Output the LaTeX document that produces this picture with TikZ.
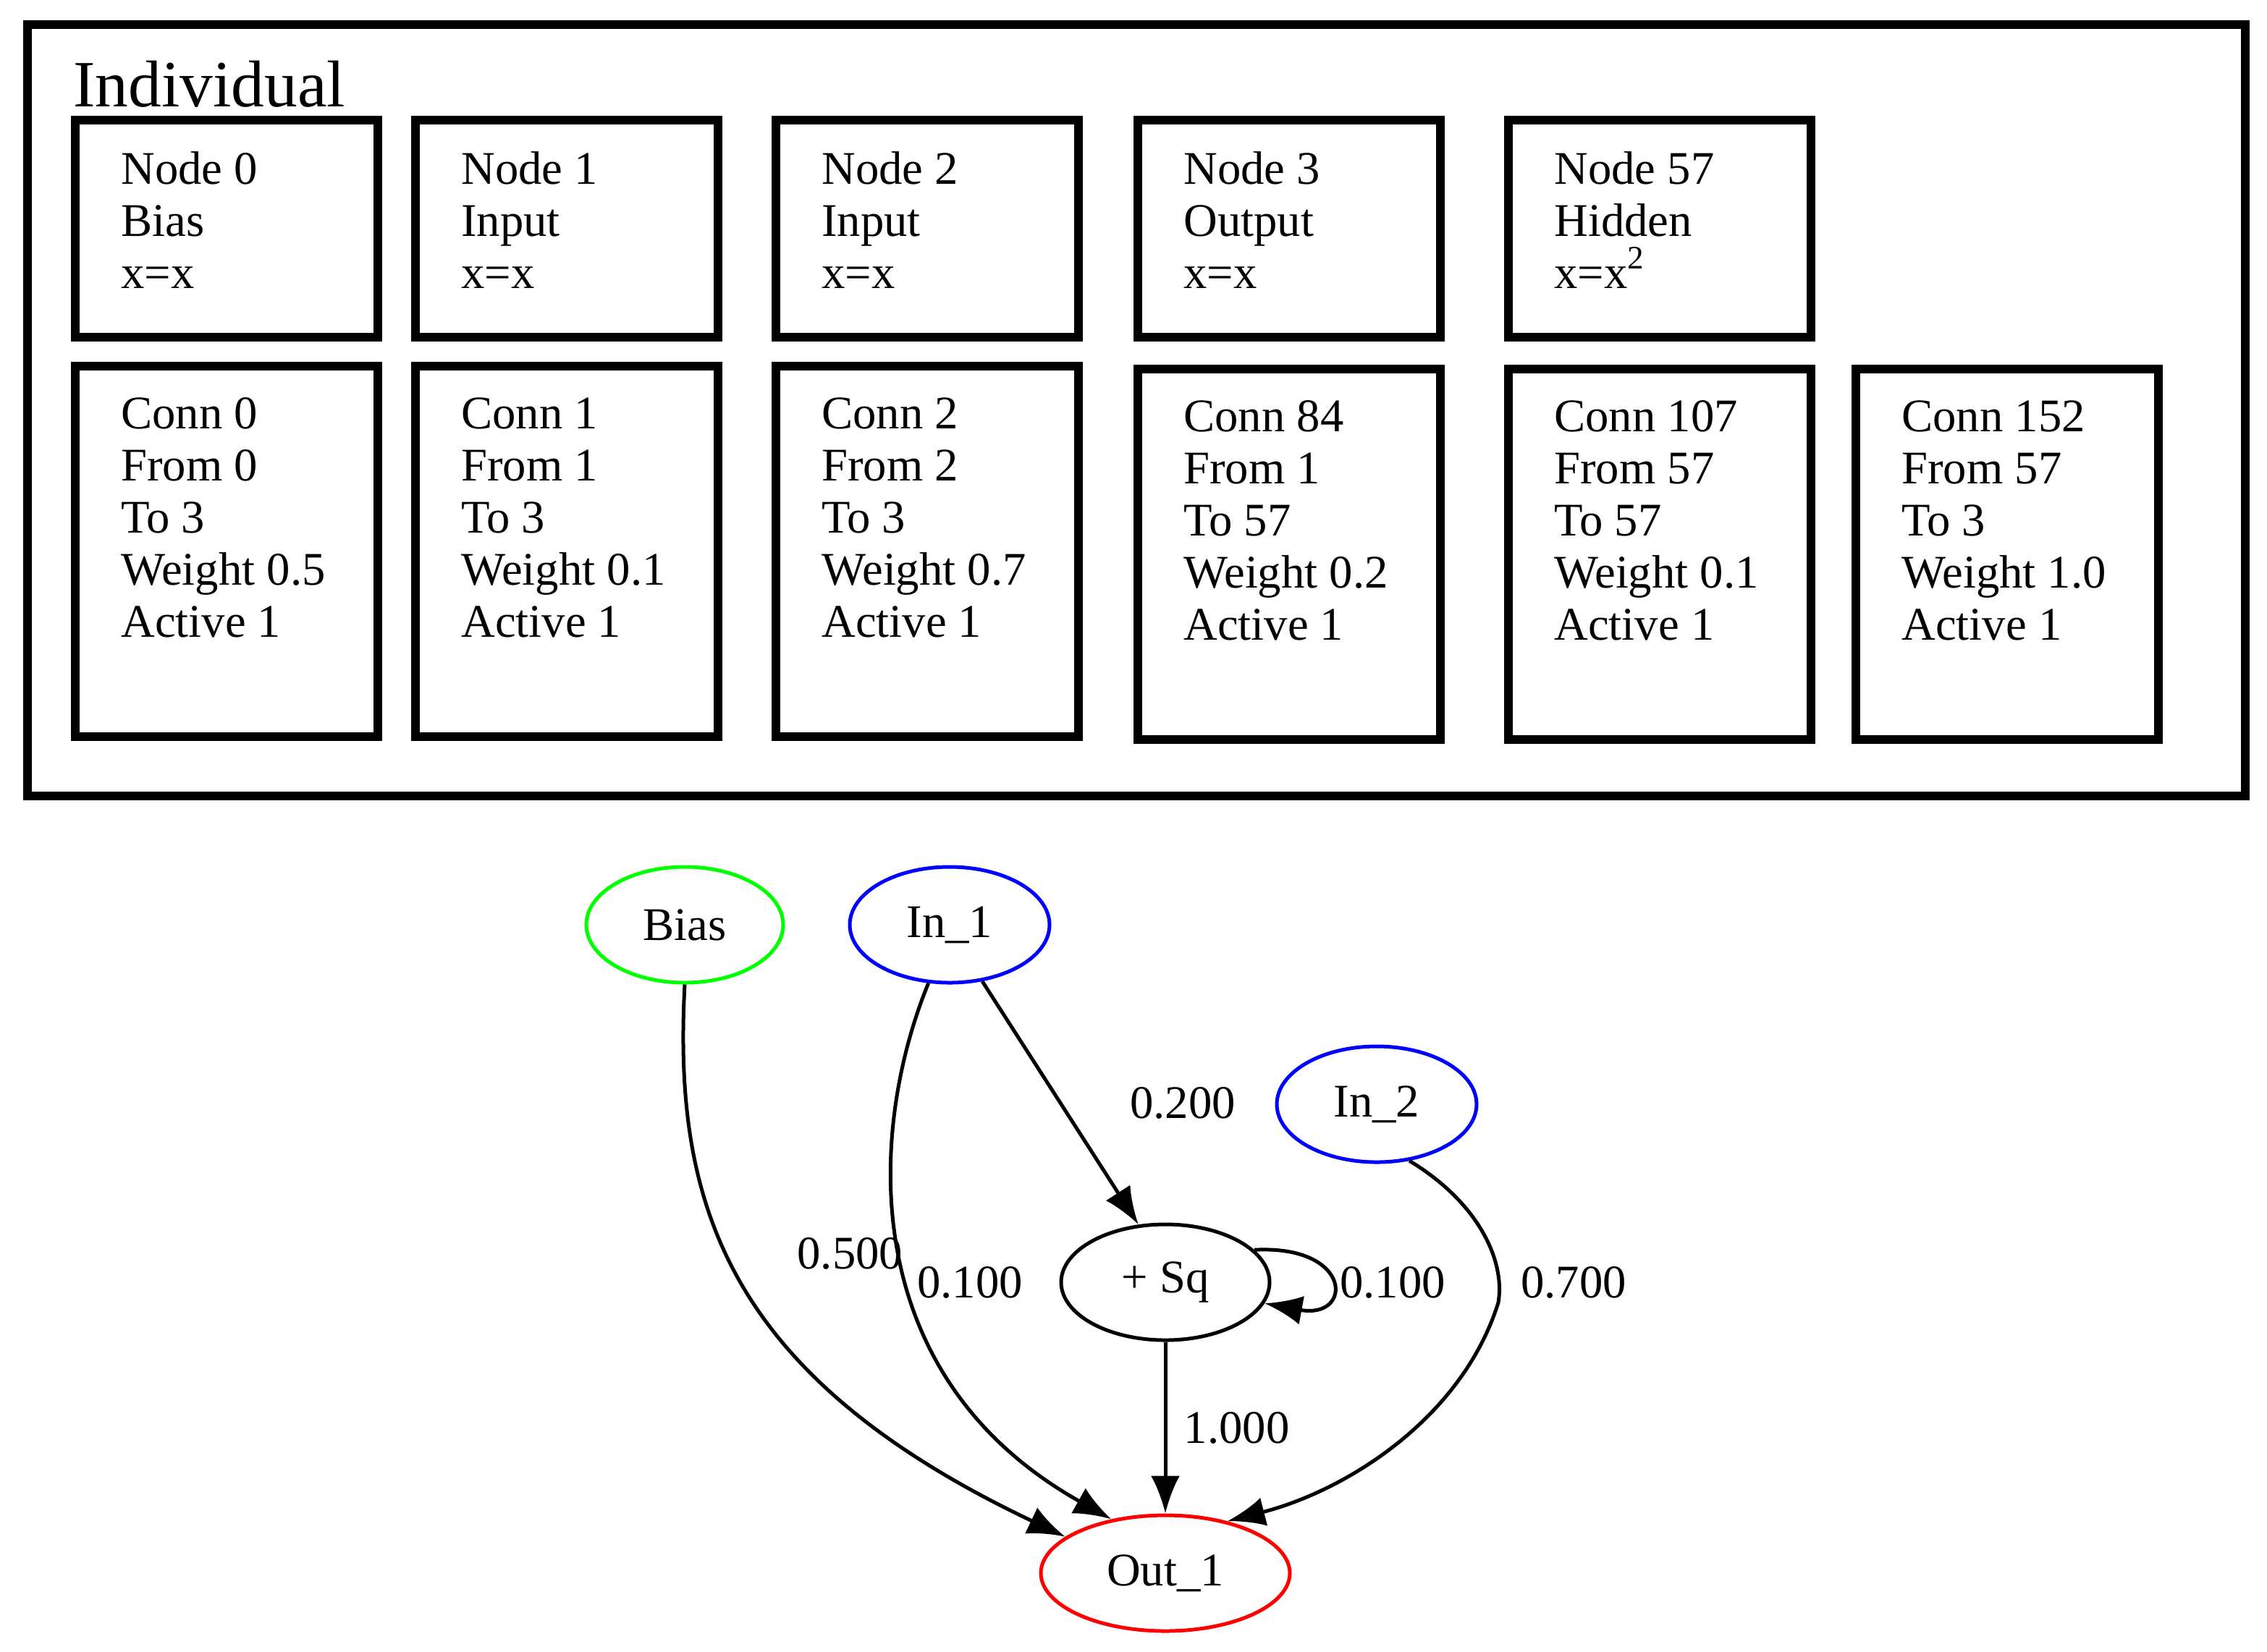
\documentclass[tikz,border=0pt]{standalone}
\usepackage{fontspec}
\setmainfont{Liberation Serif}
\usetikzlibrary{arrows.meta,shapes.geometric}
\begin{document}
\begin{tikzpicture}[x=0.1mm,y=-0.1mm,
  gene/.style={draw,line width=0.6mm,rectangle,inner sep=0pt,anchor=north west},
  txt/.style={anchor=north west,align=left,inner sep=0pt,font=\fontsize{9.2}{10.25}\selectfont},
  vert/.style={draw,ellipse,line width=0.25mm,inner sep=0pt,font=\fontsize{9.2}{11}\selectfont},
  edge/.style={-{Latex[length=2.6mm,width=2mm]},line width=0.25mm},
  lab/.style={font=\fontsize{9.2}{11}\selectfont}]
\useasboundingbox (0,0) rectangle (1566,1141);
\node[gene,minimum width=153.2mm,minimum height=53.3mm] (frame) at (16,14) {};
\node[anchor=west,inner sep=0pt,font=\fontsize{13}{15}\selectfont] (title) at (50,58) {Individual};
% node genes
\foreach \n/\x/\t in {n0/49/{Node 0\\Bias\\x=x},n1/284/{Node 1\\Input\\x=x},n2/533/{Node 2\\Input\\x=x},n3/783/{Node 3\\Output\\x=x},n57/1039/{Node 57\\Hidden\\x=x\textsuperscript{2}}}{
  \node[gene,minimum width=20.9mm,minimum height=15mm] (\n) at (\x,80) {};
  \node[txt] (\n t) at ([xshift=3.4mm,yshift=-2.4mm]\n.north west) {\t};
}
% connection genes
\foreach \n/\x/\y/\t in {c0/49/250/{Conn 0\\From 0\\To 3\\Weight 0.5\\Active 1},
  c1/284/250/{Conn 1\\From 1\\To 3\\Weight 0.1\\Active 1},
  c2/533/250/{Conn 2\\From 2\\To 3\\Weight 0.7\\Active 1},
  c84/783/252/{Conn 84\\From 1\\To 57\\Weight 0.2\\Active 1},
  c107/1039/252/{Conn 107\\From 57\\To 57\\Weight 0.1\\Active 1},
  c152/1279/252/{Conn 152\\From 57\\To 3\\Weight 1.0\\Active 1}}{
  \node[gene,minimum width=20.9mm,minimum height=25.6mm] (\n) at (\x,\y) {};
  \node[txt] (\n t) at ([xshift=3.4mm,yshift=-2.4mm]\n.north west) {\t};
}
% network
\node[vert,draw=green,minimum width=13.6mm,minimum height=8mm] (bias) at (473,639) {Bias};
\node[vert,draw=blue,minimum width=13.8mm,minimum height=8mm] (in1) at (656,639) {In\_1};
\node[vert,draw=blue,minimum width=13.8mm,minimum height=8mm] (in2) at (951,763) {In\_2};
\node[vert,minimum width=14.4mm,minimum height=8mm] (sq) at (805,886) {+ Sq};
\node[vert,draw=red,minimum width=17.2mm,minimum height=8mm] (out) at (805,1087) {Out\_1};
\draw[edge] (bias.south) .. controls (465,830) and (500,950) .. (out.160) node[lab,pos=0.45,right=10pt] {0.500};
\draw[edge] (in1.250) .. controls (600,780) and (590,950) .. (out.135);
\node[lab] (w1) at (670,886) {0.100};
\draw[edge] (in1.300) -- (sq.115) node[lab,midway,right=10pt] {0.200};
\draw[edge] (sq.20) .. controls (935,860) and (935,912) .. (sq.-12);
\node[lab] (w57) at (962,886) {0.100};
\draw[edge] (sq.south) -- (out.north) node[lab,midway,right=0pt] {1.000};
\draw[edge] (in2.300) .. controls (1020,830) and (1040,870) .. (1035,900) .. controls (1010,980) and (930,1030) .. (out.40);
\node[lab] (w7) at (1087,886) {0.700};
\end{tikzpicture}
\end{document}
